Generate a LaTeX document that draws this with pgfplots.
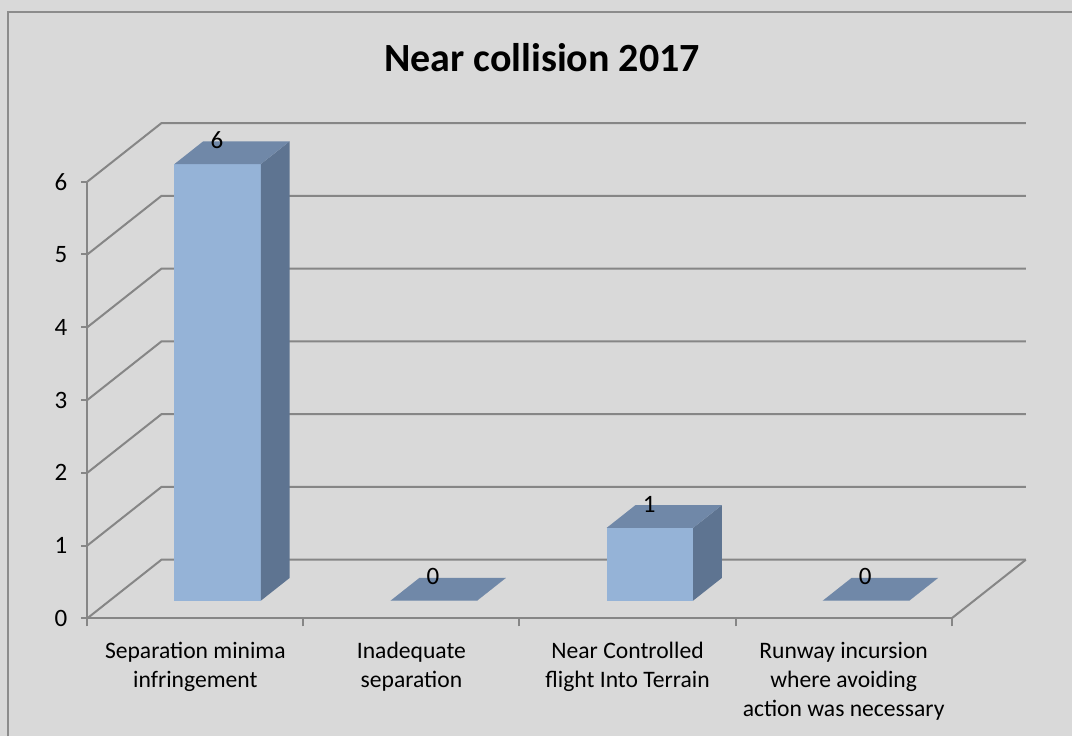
\documentclass[border=0pt]{standalone}
\usepackage{pgfplots}
\pgfplotsset{compat=1.18}
\usepackage{pgfplotstable}
\usepackage{fontspec}
\setmainfont{Carlito}

\definecolor{bg}{HTML}{D9D9D9}
\definecolor{gridc}{HTML}{868686}
\definecolor{framec}{HTML}{8C8C8C}
\definecolor{frontc}{HTML}{95B3D7}
\definecolor{sidec}{HTML}{5E7491}
\definecolor{topc}{HTML}{7088A8}

% values of the four categories
\pgfplotstableread{
idx val
0   6
1   0
2   1
3   0
}\collisions

% depth of the 3d box, in axis units
\newcommand{\dx}{0.343}
\newcommand{\dy}{0.805}

% one level of the walls: diagonal on the left wall, line on the back wall
\newcommand{\gridlevel}[1]{%
  \pgfmathsetmacro{\gy}{#1+\dy}%
  \pgfmathsetmacro{\gx}{4+\dx}%
  \edef\temp{\noexpand\addplot[gridc, line width=1pt] coordinates {(0,#1) (\dx,\gy) (\gx,\gy)};}%
  \temp
}

% one 3d bar: front, side and top faces
\newcommand{\threedbar}[2]{%
  \pgfmathsetmacro{\xa}{#1+0.3+0.3*\dx}%
  \pgfmathsetmacro{\xb}{#1+0.7+0.3*\dx}%
  \pgfmathsetmacro{\xc}{#1+0.3+0.69*\dx}%
  \pgfmathsetmacro{\xd}{#1+0.7+0.69*\dx}%
  \pgfmathsetmacro{\ya}{0.3*\dy}%
  \pgfmathsetmacro{\yb}{#2+0.3*\dy}%
  \pgfmathsetmacro{\yc}{0.69*\dy}%
  \pgfmathsetmacro{\yd}{#2+0.69*\dy}%
  \edef\temp{%
    \noexpand\addplot[fill=frontc, draw=none] coordinates {(\xa,\ya) (\xb,\ya) (\xb,\yb) (\xa,\yb)} -- cycle;
    \noexpand\addplot[fill=sidec, draw=none] coordinates {(\xb,\ya) (\xd,\yc) (\xd,\yd) (\xb,\yb)} -- cycle;
    \noexpand\addplot[fill=topc, draw=none] coordinates {(\xa,\yb) (\xb,\yb) (\xd,\yd) (\xc,\yd)} -- cycle;
  }%
  \temp
}

\begin{document}
\begin{tikzpicture}
  \path[use as bounding box, fill=bg] (-43.65pt,-58.85pt) rectangle (492.35pt,309.15pt);
  \draw[framec, line width=1pt] (-39.65pt,-58.85pt) -- (-39.65pt,303.15pt) -- (492.35pt,303.15pt);

  \begin{axis}[
      scale only axis,
      width=432.2pt, height=218.3pt,
      xmin=0, xmax=4, ymin=0, ymax=6,
      clip=false,
      axis x line*=bottom, axis y line*=left,
      axis line style={gridc, line width=1pt},
      tick align=outside,
      tick style={gridc, line width=1pt},
      major tick length=3pt, minor tick length=4pt,
      ytick={0,...,6},
      xtick={0.5,1.5,2.5,3.5},
      minor xtick={0,1,2,3,4},
      major x tick style={draw=none},
      xticklabels={{Separation minima\\infringement},{Inadequate\\separation},{Near Controlled\\flight Into Terrain},{Runway incursion\\where avoiding\\action was necessary}},
      /pgf/number format/assume math mode=true,
      yticklabel style={font=\fontsize{12.5}{14}\selectfont, text=black, xshift=-3.5pt},
      xticklabel style={font=\fontsize{11.8}{14.5}\selectfont, text=black, align=center, anchor=north, yshift=-5.5pt},
      title={Near collision 2017},
      title style={at={(0.526,1)}, anchor=base, yshift=49pt, font=\fontsize{20}{23}\selectfont\bfseries},
    ]
    \pgfplotsinvokeforeach{0,...,6}{\gridlevel{#1}}
    \addplot[gridc, line width=1pt] coordinates {(4,0) (4.343,0.805)};

    \pgfplotsinvokeforeach{0,...,3}{%
      \pgfplotstablegetelem{#1}{val}\of\collisions
      \threedbar{#1}{\pgfplotsretval}
    }

    \addplot[draw=none, no marks, nodes near coords, point meta=explicit,
      nodes near coords style={anchor=center, yshift=12pt, font=\fontsize{12.5}{14}\selectfont, text=black}]
      table[x expr=\thisrow{idx}+0.6, y expr=\thisrow{val}+0.3*\dy, meta=val] {\collisions};
  \end{axis}
\end{tikzpicture}
\end{document}
